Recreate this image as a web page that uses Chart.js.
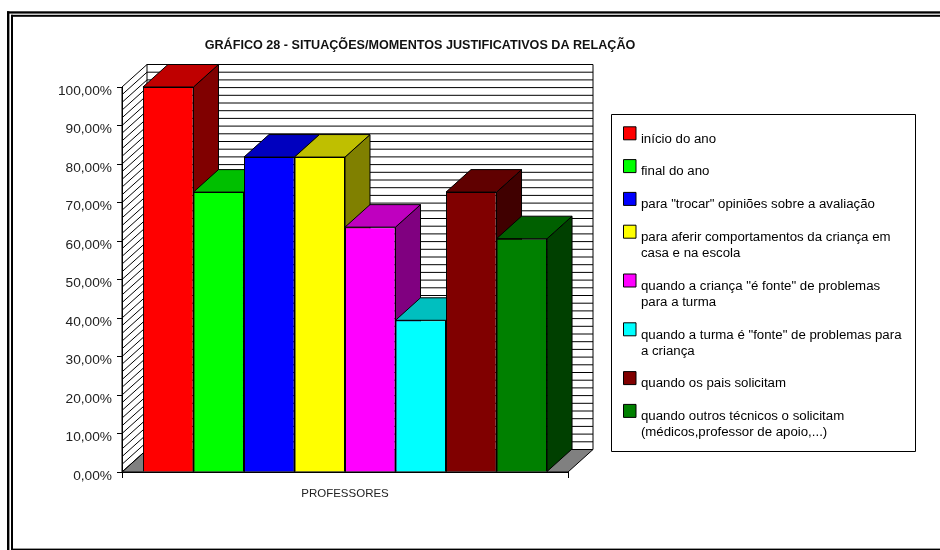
<!DOCTYPE html>
<html><head><meta charset="utf-8">
<style>html,body{margin:0;padding:0;background:#fff}#w{position:absolute;left:0;top:0;width:940px;height:550px}</style>
<script src="https://cdn.jsdelivr.net/npm/chart.js@4"></script>
</head><body><div id="w"><canvas id="c" width="940" height="550"></canvas></div>
<script>
const titleText = 'GRÁFICO 28 - SITUAÇÕES/MOMENTOS JUSTIFICATIVOS DA RELAÇÃO';
const categories = ['PROFESSORES'];
const seriesNames = [
  ['início do ano'],
  ['final do ano'],
  ['para "trocar" opiniões sobre a avaliação'],
  ['para aferir comportamentos da criança em','casa e na escola'],
  ['quando a criança "é fonte" de problemas','para a turma'],
  ['quando a turma é "fonte" de problemas para','a criança'],
  ['quando os pais solicitam'],
  ['quando outros técnicos o solicitam','(médicos,professor de apoio,...)']
];
const seriesValues = [100, 72.7, 81.8, 81.8, 63.6, 39.4, 72.7, 60.6];
const seriesColors = ['#ff0000','#00ff00','#0000ff','#ffff00','#ff00ff','#00ffff','#800000','#008000'];
const gridValues = [0,2,4,6,8,10,12,14,16,18,20,22,24,26,28,30,32,34,36,38,40,42,44,46,48,50,52,54,56,58,60,62,64,66,68,70,72,74,76,78,80,82,84,86,88,90,92,94,96,98,100];
const DX = 25, DY = 22.5;
const font = 'Liberation Sans, Arial, sans-serif';

function shade(hex, f){
  const n = parseInt(hex.slice(1),16);
  return 'rgb('+[(n>>16)&255,(n>>8)&255,n&255].map(v=>Math.round(v*f)).join(',')+')';
}
function poly(ctx, pts, fill, stroke){
  ctx.beginPath();
  pts.forEach((p,i)=> i?ctx.lineTo(p[0],p[1]):ctx.moveTo(p[0],p[1]));
  ctx.closePath();
  if(fill){ctx.fillStyle=fill;ctx.fill();}
  if(stroke){ctx.strokeStyle=stroke;ctx.lineWidth=1;ctx.stroke();}
}
const depth3d = {
  id:'depth3d',
  afterLayout(chart){
    const t = chart.titleBlock; t.left = 0; t.right = 840;
    const l = chart.legend; l.left = 611.5; l.right = 915.5; l.top = 115.5; l.bottom = 451.5; l.width = 304; l.height = 336;
  },
  beforeDraw(chart){
    const ctx = chart.ctx;
    ctx.save();
    ctx.fillStyle='#fff';ctx.fillRect(0,0,940,550);
    ctx.fillStyle='#000';
    ctx.fillRect(7,11.3,933,2.3);
    ctx.fillRect(7,11.3,2.4,539);
    ctx.fillRect(11,14.8,929,2);
    ctx.fillRect(11,14.8,2,535.2);
    ctx.fillRect(11,548.6,929,1.4);
    ctx.restore();
  },
  beforeDatasetsDraw(chart){
    const ctx = chart.ctx, a = chart.chartArea, y = chart.scales.y;
    ctx.save();
    const y0 = y.getPixelForValue(0), yT = y.getPixelForValue(100);
    poly(ctx,[[a.left+DX,yT-DY],[a.right+DX,yT-DY],[a.right+DX,y0-DY],[a.left+DX,y0-DY]],'#fff');
    poly(ctx,[[a.left,y0],[a.left+DX,y0-DY],[a.right+DX,y0-DY],[a.right,y0]],'#808080','#000');
    ctx.strokeStyle='#000';ctx.lineWidth=1;
    gridValues.forEach(v=>{
      const p = y.getPixelForValue(v);
      ctx.beginPath();
      ctx.moveTo(a.left,p);ctx.lineTo(a.left+DX,p-DY);ctx.lineTo(a.right+DX,p-DY);
      ctx.stroke();
    });
    ctx.beginPath();
    ctx.moveTo(a.left,yT);ctx.lineTo(a.left,y0);
    ctx.moveTo(a.left+DX,yT-DY);ctx.lineTo(a.left+DX,y0-DY);
    ctx.moveTo(a.right+DX,yT-DY);ctx.lineTo(a.right+DX,y0-DY);
    ctx.stroke();
    chart.data.datasets.forEach((ds,i)=>{
      const b = chart.getDatasetMeta(i).data[0];
      const l = b.x-b.width/2, r = b.x+b.width/2, t = b.y, z = b.base;
      poly(ctx,[[r,t],[r+DX,t-DY],[r+DX,z-DY],[r,z]],shade(ds.backgroundColor,0.5),'#000');
      poly(ctx,[[l,t],[r,t],[r+DX,t-DY],[l+DX,t-DY]],shade(ds.backgroundColor,0.75),'#000');
    });
    ctx.restore();
  },
  afterDraw(chart){
    const ctx = chart.ctx, l = chart.legend;
    ctx.save();
    poly(ctx,[[611.5,114.5],[915.5,114.5],[915.5,451.5],[611.5,451.5]],null,'#000');
    l.legendHitBoxes.forEach((h,i)=>{
      poly(ctx,[[623.5,h.top-5.5],[636,h.top-5.5],[636,h.top+7.5],[623.5,h.top+7.5]],seriesColors[i],'#000');
    });
    ctx.restore();
  }
};
new Chart(document.getElementById('c'),{
  type:'bar',
  data:{labels:categories,datasets:seriesNames.map((n,i)=>({
    label:n.join(' '),data:[seriesValues[i]],backgroundColor:seriesColors[i],borderColor:'#000',borderWidth:1,
    categoryPercentage:0.906,barPercentage:1
  }))},
  options:{
    responsive:false,animation:false,
    layout:{autoPadding:false,padding:{left:0,top:0,right:372,bottom:0}},
    plugins:{
      tooltip:{enabled:false},
      title:{display:true,text:titleText,color:'#111',font:{family:font,size:12.6,weight:'bold',lineHeight:12/12.6},padding:{top:39.5,bottom:35.5}},
      legend:{display:true,position:'chartArea',align:'start',
        labels:{boxWidth:6,boxHeight:7,padding:16.8,color:'#222',font:{family:font,size:13.25,lineHeight:16/13.25},
          generateLabels:()=>seriesNames.map((n,i)=>({text:n,fillStyle:'rgba(0,0,0,0)',strokeStyle:'rgba(0,0,0,0)',lineWidth:0,datasetIndex:i,hidden:false}))}
      }
    },
    scales:{
      x:{afterFit(s){s.height=78;},
        border:{color:'#000',width:1},
        grid:{display:true,drawOnChartArea:false,drawTicks:true,tickLength:6,color:'#000',offset:true},
        ticks:{color:'#222',padding:9,font:{family:font,size:11.5}}},
      y:{min:0,max:100,
        afterFit(s){
          s.width=122;
          const orig = s._computeLabelItems;
          s._computeLabelItems = function(ca){ return orig.call(this,ca).map(it=>{it.textOffset += 2; return it;}); };
        },
        border:{color:'#000',width:1},
        grid:{display:true,drawOnChartArea:false,drawTicks:true,tickLength:5,color:'#000'},
        ticks:{stepSize:10,color:'#222',padding:5,font:{family:font,size:13.7},
          callback:v=>v.toFixed(2).replace('.',',')+'%'}}
    }
  },
  plugins:[depth3d]
});
</script></body></html>
